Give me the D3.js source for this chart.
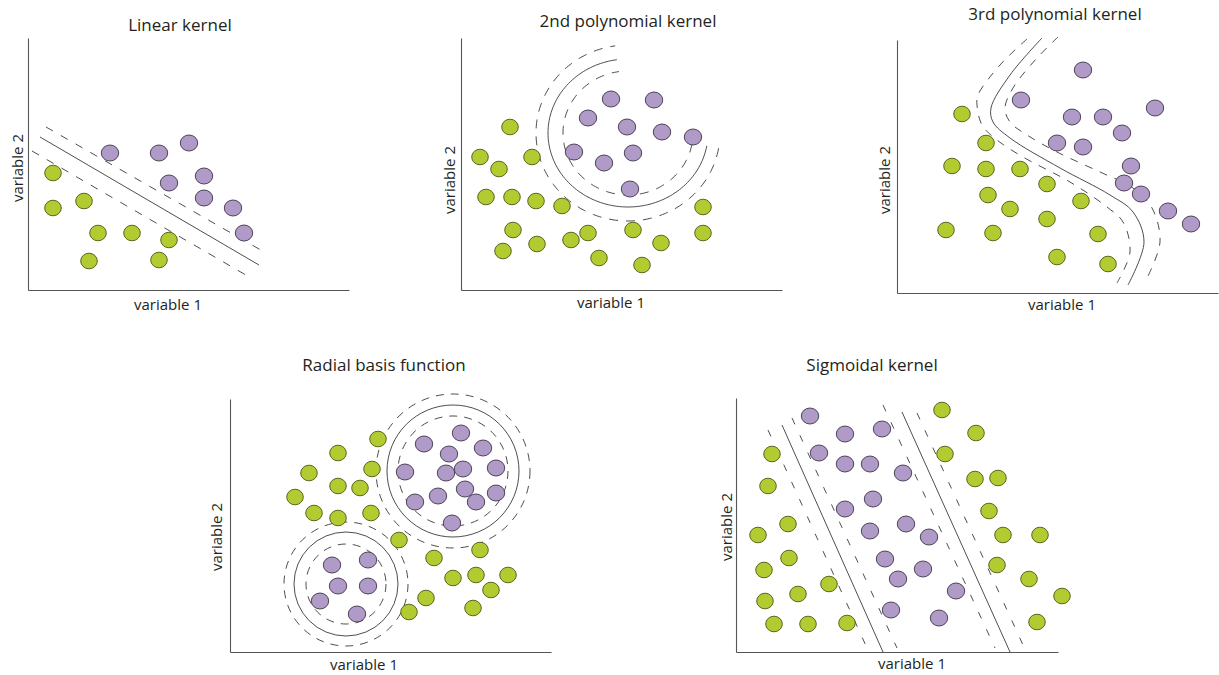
<!DOCTYPE html>
<html>
<head>
<meta charset="utf-8">
<script src="https://cdn.jsdelivr.net/npm/d3@7"></script>
<style>
  html, body { margin: 0; padding: 0; background: #fff; }
  svg { display: block; }
  text { font-family: "Open Sans", "Noto Sans", sans-serif; fill: #231f20; }
</style>
</head>
<body>
<svg id="chart" width="1219" height="675"></svg>
<script>
// ---------- Data (variable 1, variable 2) ----------

// Linear kernel
const linearPurple = [[82,137],[131,137],[161,147],[176,114],[141,107],[176,92],[205,82],[216,57]];
const linearGreen  = [[25,117],[25,82],[56,89],[70,57],[104,57],[141,50],[61,29],[131,30]];
const linearSolid  = [[12,153],[231,25]];
const linearUpper  = [[18,163],[238,37]];
const linearLower  = [[4,139],[223,12]];

// 2nd polynomial kernel
const poly2Purple = [[150,191],[193,190],[127,172],[166,163],[201,158],[232,153],[113,138],[172,137],[143,127],[169,101]];
const poly2Green  = [[49,163],[19,133],[71,133],[38,121],[25,93],[51,93],[75,89],[101,84],[242,83],[52,60],
                     [42,39],[76,46],[110,50],[127,57],[172,60],[200,47],[242,57],[138,32],[181,25]];
const poly2Center = [167,157];
const poly2Radii  = { solid: [80,74], inner: [65,62], outer: [92,88] };
const poly2Sweep  = [10, 262]; // degrees, clockwise from +variable 1

// 3rd polynomial kernel
const poly3Purple = [[186,223],[124,193],[175,176],[206,176],[258,185],[225,160],[160,150],[186,146],
                     [234,127],[227,110],[244,99],[271,82],[294,69]];
const poly3Green  = [[65,179],[89,150],[55,127],[89,124],[123,124],[150,109],[91,98],[113,84],
                     [184,92],[150,74],[49,63],[96,60],[201,59],[160,36],[211,29]];
const poly3Solid  = [[145,255],[113,218],[94,185],[96,171],[113,155],[163,125],[213,98],[236,81],[247,51],[231,8]];
const poly3Left   = [[130,254],[103,228],[81,198],[80,188],[85,168],[100,153],[126,136],[173,111],[210,86],[226,71],[233,41],[220,10]];
const poly3Right  = [[161,256],[140,235],[116,205],[108,185],[113,171],[130,158],[160,141],[203,121],[236,105],[255,85],[263,51],[250,15]];

// Radial basis function
const rbfPurple = [[231,219],[194,208],[253,204],[219,198],[175,180],[216,179],[233,183],[266,184],
                   [235,163],[266,159],[185,150],[208,156],[246,150],[222,129],
                   [102,87],[138,92],[108,66],[138,66],[90,51],[127,38]];
const rbfGreen  = [[148,213],[108,199],[79,179],[142,183],[108,166],[130,164],[65,155],[84,139],[108,134],[141,139],
                   [169,112],[204,94],[250,102],[223,74],[246,77],[278,77],[261,62],[196,54],[179,40],[243,44]];
const rbfCenters = [[223,181],[116,68]];
const rbfRadii   = [{ solid: 66, inner: 55, outer: 77 }, { solid: 52, inner: 40, outer: 62 }];

// Sigmoidal kernel
const sigPurple = [[74,236],[109,218],[146,223],[83,199],[109,188],[134,188],[167,179],[137,153],[109,143],
                   [170,128],[134,121],[193,115],[149,93],[187,83],[162,73],[220,61],[155,42],[203,34]];
const sigGreen  = [[206,242],[240,219],[209,198],[239,173],[262,174],[36,198],[32,166],[253,141],[52,128],
                   [22,117],[267,117],[304,117],[53,94],[28,82],[261,87],[93,68],[293,73],[29,51],[62,58],
                   [326,56],[38,28],[72,28],[111,29],[301,30]];
const sigLines = [
  { kind: "dashed", pts: [[32,222],[131,4]] },
  { kind: "solid",  pts: [[46,227],[147,0]] },
  { kind: "dashed", pts: [[56,234],[161,4]] },
  { kind: "dashed", pts: [[147,247],[259,4]] },
  { kind: "solid",  pts: [[166,240],[274,0]] },
  { kind: "dashed", pts: [[181,239],[287,7]] }
];

const titles = ["Linear kernel", "2nd polynomial kernel", "3rd polynomial kernel", "Radial basis function", "Sigmoidal kernel"];
const xLabel = "variable 1";
const yLabel = "variable 2";

// ---------- Styles ----------
const PURPLE = { fill: "#b09ac8", stroke: "#3f3548", rx: 8.7, ry: 8 };
const GREEN  = { fill: "#b1cb31", stroke: "#4b5a12", rx: 8.3, ry: 7.8 };
const LINE_COLOR = "#3a3a3a";
const AXIS_COLOR = "#555";

const svg = d3.select("#chart");
svg.append("rect").attr("width", 1219).attr("height", 675).attr("fill", "#fff");

// Panel layout: origin (left, bottom) and axis lengths in pixels
const layouts = [
  { left: 28,  bottom: 290, w: 321, h: 252, title: [180, 31],  xl: [168, 310], yl: [23, 168],  dash: "8,9" },
  { left: 461, bottom: 290, w: 321, h: 252, title: [628, 27],  xl: [611, 308], yl: [455, 180], dash: "9,8" },
  { left: 897, bottom: 293, w: 321, h: 253, title: [1055, 20], xl: [1062, 310], yl: [890, 180], dash: "8,8" },
  { left: 230, bottom: 652, w: 321, h: 253, title: [384, 371], xl: [364, 670], yl: [222, 537], dash: "8,7" },
  { left: 736, bottom: 652, w: 322, h: 254, title: [872, 371], xl: [912, 669], yl: [732, 527], dash: "7,12" }
];

function makePanel(i) {
  const L = layouts[i];
  const g = svg.append("g").attr("transform", `translate(${L.left},${L.bottom - L.h})`);
  const x = d3.scaleLinear().domain([0, L.w]).range([0, L.w]);
  const y = d3.scaleLinear().domain([0, L.h]).range([L.h, 0]);

  // axes: bare domain lines, no ticks
  const ax = g.append("g").attr("transform", `translate(0,${L.h})`)
    .call(d3.axisBottom(x).tickValues([]).tickSizeOuter(0));
  const ay = g.append("g").call(d3.axisLeft(y).tickValues([]).tickSizeOuter(0));
  [ax, ay].forEach(a => a.select(".domain").attr("stroke", AXIS_COLOR).attr("stroke-width", 1.1));

  svg.append("text").attr("x", L.title[0]).attr("y", L.title[1])
    .attr("text-anchor", "middle").attr("font-size", 17).text(titles[i]);
  svg.append("text").attr("x", L.xl[0]).attr("y", L.xl[1])
    .attr("text-anchor", "middle").attr("font-size", 15).text(xLabel);
  svg.append("text").attr("transform", `translate(${L.yl[0]},${L.yl[1]}) rotate(-90)`)
    .attr("text-anchor", "middle").attr("font-size", 15).text(yLabel);

  const lines = g.append("g").attr("fill", "none").attr("stroke", LINE_COLOR);
  const marks = g.append("g");
  return { g, x, y, L, lines, marks };
}

function drawPath(P, pts, kind, curve) {
  const gen = d3.line().x(d => P.x(d[0])).y(d => P.y(d[1]));
  if (curve) gen.curve(curve);
  P.lines.append("path").attr("d", gen(pts))
    .attr("stroke-width", kind === "solid" ? 0.9 : 0.9)
    .attr("stroke-dasharray", kind === "solid" ? null : P.L.dash);
}

function drawPoints(P, data, style) {
  P.marks.selectAll(null).data(data).enter().append("ellipse")
    .attr("cx", d => P.x(d[0])).attr("cy", d => P.y(d[1]))
    .attr("rx", style.rx).attr("ry", style.ry)
    .attr("fill", style.fill).attr("stroke", style.stroke).attr("stroke-width", 0.9);
}

// Elliptical arc traced in data units
function arcPoints(center, radii, sweep) {
  return d3.range(sweep[0], sweep[1] + 0.5, 2).map(a => {
    const t = a * Math.PI / 180;
    return [center[0] + radii[0] * Math.cos(t), center[1] - radii[1] * Math.sin(t)];
  });
}

// 1. Linear kernel
const p1 = makePanel(0);
drawPath(p1, linearSolid, "solid");
drawPath(p1, linearUpper, "dashed");
drawPath(p1, linearLower, "dashed");
drawPoints(p1, linearPurple, PURPLE);
drawPoints(p1, linearGreen, GREEN);

// 2. 2nd polynomial kernel
const p2 = makePanel(1);
drawPath(p2, arcPoints(poly2Center, poly2Radii.solid, poly2Sweep), "solid");
drawPath(p2, arcPoints(poly2Center, poly2Radii.inner, poly2Sweep), "dashed");
drawPath(p2, arcPoints(poly2Center, poly2Radii.outer, poly2Sweep), "dashed");
drawPoints(p2, poly2Purple, PURPLE);
drawPoints(p2, poly2Green, GREEN);

// 3. 3rd polynomial kernel
const p3 = makePanel(2);
drawPath(p3, poly3Solid, "solid", d3.curveCatmullRom.alpha(0.5));
drawPath(p3, poly3Left, "dashed", d3.curveCatmullRom.alpha(0.5));
drawPath(p3, poly3Right, "dashed", d3.curveCatmullRom.alpha(0.5));
drawPoints(p3, poly3Purple, PURPLE);
drawPoints(p3, poly3Green, GREEN);

// 4. Radial basis function
const p4 = makePanel(3);
rbfCenters.forEach((c, k) => {
  const R = rbfRadii[k];
  [["solid", R.solid], ["dashed", R.inner], ["dashed", R.outer]].forEach(([kind, r]) => {
    p4.lines.append("circle")
      .attr("cx", p4.x(c[0])).attr("cy", p4.y(c[1]))
      .attr("r", p4.x(r) - p4.x(0))
      .attr("stroke-width", 0.9)
      .attr("stroke-dasharray", kind === "solid" ? null : p4.L.dash);
  });
});
drawPoints(p4, rbfPurple, PURPLE);
drawPoints(p4, rbfGreen, GREEN);

// 5. Sigmoidal kernel
const p5 = makePanel(4);
sigLines.forEach(l => drawPath(p5, l.pts, l.kind));
drawPoints(p5, sigPurple, PURPLE);
drawPoints(p5, sigGreen, GREEN);
</script>
</body>
</html>
